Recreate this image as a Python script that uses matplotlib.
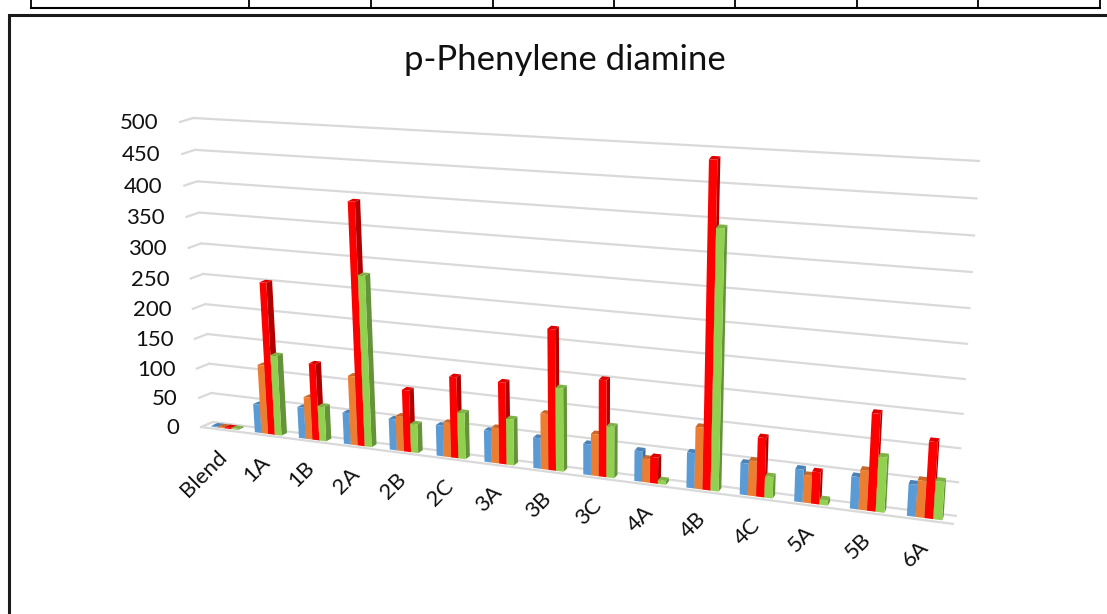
import numpy as np
import matplotlib
matplotlib.use("Agg")
import matplotlib.pyplot as plt
from matplotlib.transforms import Transform, Affine2D
from matplotlib.patches import Polygon
from matplotlib.lines import Line2D

categories = ["Blend", "1A", "1B", "2A", "2B", "2C", "3A", "3B", "3C", "4A", "4B", "4C", "5A", "5B", "6A"]
series_1 = [2, 48, 52, 52, 51, 50, 51, 49, 49, 48, 55, 49, 50, 49, 48]
series_2 = [2, 115, 70, 114, 57, 56, 57, 89, 66, 37, 96, 54, 42, 60, 55]
series_3 = [2, 252, 127, 392, 101, 131, 131, 222, 152, 41, 489, 91, 49, 146, 114]
series_4 = [2, 134, 58, 278, 47, 75, 74, 132, 81, 6, 393, 33, 8, 83, 57]
y_ticks = [0, 50, 100, 150, 200, 250, 300, 350, 400, 450, 500]
title = "p-Phenylene diamine"

W, H = 1107, 614
plt.rcParams['font.family'] = ['Lato', 'DejaVu Sans']
N = len(categories)
YMAX = 500.0


def homography(src, dst):
    A, b = [], []
    for (x, y), (X, Y) in zip(src, dst):
        A.append([x, y, 1, 0, 0, 0, -x * X, -y * X]); b.append(X)
        A.append([0, 0, 0, x, y, 1, -x * Y, -y * Y]); b.append(Y)
    return np.append(np.linalg.solve(np.array(A, float), np.array(b, float)), 1).reshape(3, 3)


SRC = [(0, 0), (N, 0), (0, YMAX), (N, YMAX)]
H_BACK = homography(SRC, [(213, 422), (957, 516), (193, 118), (980, 161)])
H_FRONT = homography(SRC, [(201, 427), (954, 524), (180, 122), (977, 169)])


class Perspective(Transform):
    """(category position, value) at a given depth -> display pixels."""
    input_dims = output_dims = 2
    is_separable = False
    has_inverse = False

    def __init__(self, z):
        super().__init__()
        self.z = z

    def transform_non_affine(self, xy):
        xy = np.asarray(xy, float)
        p = np.c_[xy, np.ones(len(xy))]
        def ap(M):
            q = p @ M.T
            return q[:, :2] / q[:, 2:3]
        r = (1 - self.z) * ap(H_BACK) + self.z * ap(H_FRONT)
        r[:, 1] = H - r[:, 1]
        return r


fig = plt.figure(figsize=(W / 100, H / 100), dpi=100, facecolor="white")
ax = fig.add_axes([0, 0, 1, 1])
ax.set_xlim(0, N)
ax.set_ylim(0, YMAX)
ax.axis("off")

T_back = Perspective(0.0)
T_front = Perspective(1.0)
px = Affine2D()  # display-pixel artists (frame)

# page furniture around the chart
ax.add_artist(Line2D([9, 9, 1120], [-5, H - 14.5, H - 14.5], color="#1a1a1a", lw=2.2, transform=px,
                     solid_joinstyle="miter"))
ax.add_artist(Line2D([30.5, 1100], [H - 7.5, H - 7.5], color="black", lw=1.5, transform=px))
for xv in [30.5, 249, 371, 493, 614, 735, 857, 978, 1100]:
    ax.add_artist(Line2D([xv, xv], [H + 2, H - 7.5], color="black", lw=1.3, transform=px))

GRID = "#D9D9D9"
for v in y_ticks:
    ax.plot([0, N], [v, v], color=GRID, lw=1.6, transform=T_back, solid_capstyle="butt", zorder=1)
    a = T_back.transform_non_affine([[0, v]])[0]
    b = T_front.transform_non_affine([[0, v]])[0]
    ax.add_artist(Line2D([a[0], b[0]], [a[1], b[1]], color=GRID, lw=1.6, transform=px, zorder=1))
    ax.annotate(str(v), xy=(0, v), xycoords=T_front, xytext=(-15.5, -1), textcoords="offset points",
                ha="right", va="center", fontsize=16, color="#111111")
# floor front edge
ax.plot([0, N], [0, 0], color=GRID, lw=1.6, transform=T_front, solid_capstyle="butt", zorder=1)

COLORS = [("#5B9BD5", "#3F71A0", "#4A82B8"),
          ("#ED7D31", "#B05C22", "#C9682A"),
          ("#FF0000", "#B00000", "#E00000"),
          ("#92D050", "#64933A", "#7DB245")]
SERIES = [series_1, series_2, series_3, series_4]
BAR = 0.152
Z_FRONT, Z_BACK = 0.74, 0.24

z = 3
T_f, T_b = Perspective(Z_FRONT), Perspective(Z_BACK)
for i in range(N):
    for s, vals in enumerate(SERIES):
        v = vals[i]
        x0 = i + 0.48 + (s - 2) * BAR
        x1 = x0 + BAR
        front, side, top = COLORS[s]
        f = T_f.transform_non_affine([[x0, 0], [x1, 0], [x1, v], [x0, v]])
        b = T_b.transform_non_affine([[x0, 0], [x1, 0], [x1, v], [x0, v]])
        ax.add_patch(Polygon([f[1], b[1], b[2], f[2]], closed=True, fc=side, ec="none", transform=px, zorder=z))
        ax.add_patch(Polygon([f[3], f[2], b[2], b[3]], closed=True, fc=top, ec="none", transform=px, zorder=z))
        ax.add_patch(Polygon(f, closed=True, fc=front, ec="none", transform=px, zorder=z))
        z += 1

for i, c in enumerate(categories):
    ax.annotate(c, xy=(i + 0.5, 0), xycoords=T_front, xytext=(-4.5, -12), textcoords="offset points",
                ha="right", va="top", rotation=45, rotation_mode="anchor", fontsize=16, color="#111111")

ax.text(565 / W, 1 - 60.5 / H, title, transform=fig.transFigure, ha="center", va="center",
        fontsize=25, color="#111111")

fig.savefig("out.png", dpi=100)
